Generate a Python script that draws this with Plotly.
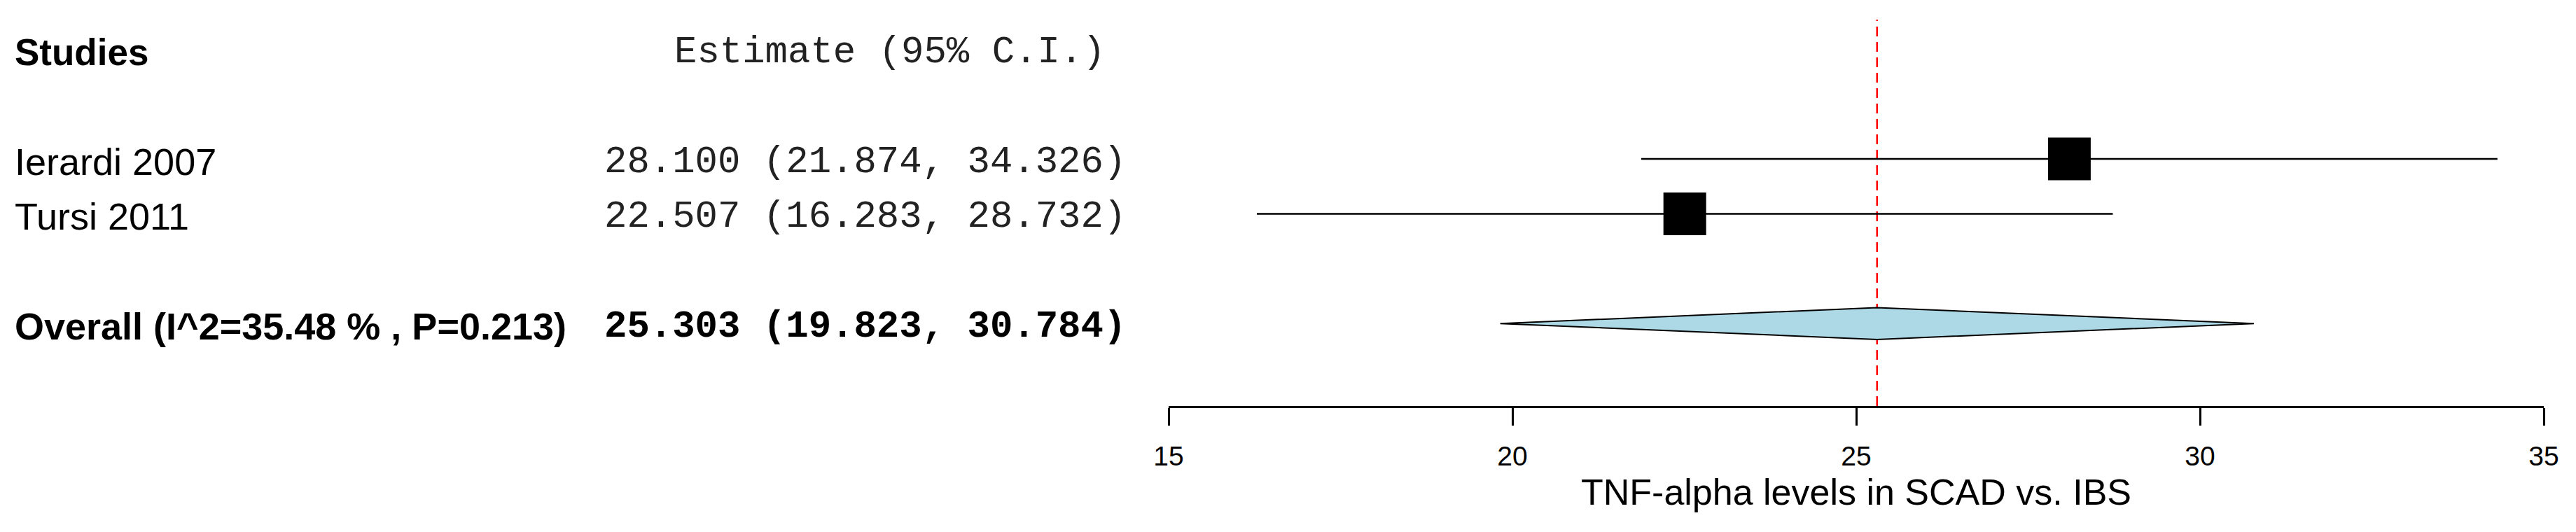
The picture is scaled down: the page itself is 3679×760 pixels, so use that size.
import plotly.graph_objects as go

# ---------------- data ----------------
studies = ["Ierardi 2007", "Tursi 2011"]
estimates = [28.100, 22.507]
ci_lower = [21.874, 16.283]
ci_upper = [34.326, 28.732]
study_rows = [2, 1]

overall_label = "Overall (I^2=35.48 % , P=0.213)"
overall_est = 25.303
overall_lower = 19.823
overall_upper = 30.784
overall_row = -1

header_row = 4
header_left = "Studies"
header_right = "Estimate (95% C.I.)"

x_ticks = [15, 20, 25, 30, 35]
x_title = "TNF-alpha levels in SCAD vs. IBS"

# ---------------- layout constants ----------------
PAGE_W, PAGE_H = 3679, 760
OFF = 8                       # default page body margin
W, H = PAGE_W - 2 * OFF, PAGE_H - 2 * OFF
SANS = "Arial, Liberation Sans, sans-serif"
MONO = "Courier New, Liberation Mono, monospace"

PX_PER_ROW = 78.4
ROW0_PX = 383.8               # page y of row 0
AXIS_PX = 580                 # page y of x axis line
y_bottom = (ROW0_PX - AXIS_PX) / PX_PER_ROW
y_top = (ROW0_PX - OFF) / PX_PER_ROW
ref_top = (ROW0_PX - 28) / PX_PER_ROW
diamond_half = 0.29

fig = go.Figure()

# reference line at pooled estimate
fig.add_trace(go.Scatter(
    x=[overall_est, overall_est], y=[y_bottom, ref_top], mode="lines",
    line=dict(color="#FF0000", width=2.5, dash="14px,8px"), hoverinfo="skip"))

# confidence intervals
for lo, hi, r in zip(ci_lower, ci_upper, study_rows):
    fig.add_trace(go.Scatter(
        x=[lo, hi], y=[r, r], mode="lines",
        line=dict(color="black", width=2.5), hoverinfo="skip"))

# point estimates
fig.add_trace(go.Scatter(
    x=estimates, y=study_rows, mode="markers",
    marker=dict(symbol="square", size=61, color="black", line=dict(width=0)),
    hoverinfo="skip"))

# pooled diamond
fig.add_trace(go.Scatter(
    x=[overall_lower, overall_est, overall_upper, overall_est, overall_lower],
    y=[overall_row, overall_row + diamond_half, overall_row,
       overall_row - diamond_half, overall_row],
    mode="lines", fill="toself", fillcolor="#ADD8E6",
    line=dict(color="black", width=2), hoverinfo="skip"))

# ---------------- text columns ----------------
ann = []
left_x = (19 - OFF) / W
val_right_x = (1610 - OFF) / W
hdr_right_x = (1581 - OFF) / W
TEXT_SHIFT = -4


def add_text(x, y, text, font, anchor):
    ann.append(dict(x=x, xref="paper", y=y, yref="y", text=text,
                    showarrow=False, xanchor=anchor, yanchor="middle",
                    yshift=TEXT_SHIFT, font=font))


add_text(left_x, header_row, "<b>%s</b>" % header_left,
         dict(family=SANS, size=53, color="black"), "left")
add_text(hdr_right_x, header_row, header_right,
         dict(family=MONO, size=54, color="#222"), "right")

for s, e, lo, hi, r in zip(studies, estimates, ci_lower, ci_upper, study_rows):
    add_text(left_x, r, s, dict(family=SANS, size=54, color="black"), "left")
    add_text(val_right_x, r, f"{e:.3f} ({lo:.3f}, {hi:.3f})",
             dict(family=MONO, size=54, color="#222"), "right")

add_text(left_x, overall_row, "<b>%s</b>" % overall_label,
         dict(family=SANS, size=54, color="black"), "left")
add_text(val_right_x, overall_row,
         f"<b>{overall_est:.3f} ({overall_lower:.3f}, {overall_upper:.3f})</b>",
         dict(family=MONO, size=54, color="black"), "right")

fig.update_layout(
    width=W, height=H,
    margin=dict(l=0, r=0, t=0, b=0, pad=0, autoexpand=False),
    paper_bgcolor="white", plot_bgcolor="white",
    showlegend=False,
    annotations=ann,
    xaxis=dict(
        domain=[(1669 - OFF) / W, (3633 - OFF) / W], range=[15, 35],
        tickvals=x_ticks, ticktext=[str(t) for t in x_ticks],
        showline=True, linecolor="black", linewidth=2.5,
        ticks="outside", ticklen=25, tickwidth=2.5, tickcolor="black",
        ticklabelstandoff=10, automargin=False,
        tickfont=dict(family=SANS, size=39, color="black"),
        showgrid=False, zeroline=False,
        title=dict(text=x_title, font=dict(family=SANS, size=52, color="black"),
                   standoff=14),
    ),
    yaxis=dict(
        domain=[(PAGE_H - OFF - AXIS_PX) / H, 1], range=[y_bottom, y_top],
        visible=False, showgrid=False, zeroline=False, automargin=False,
    ),
)

fig.write_html("out.html", config={"displayModeBar": False})
